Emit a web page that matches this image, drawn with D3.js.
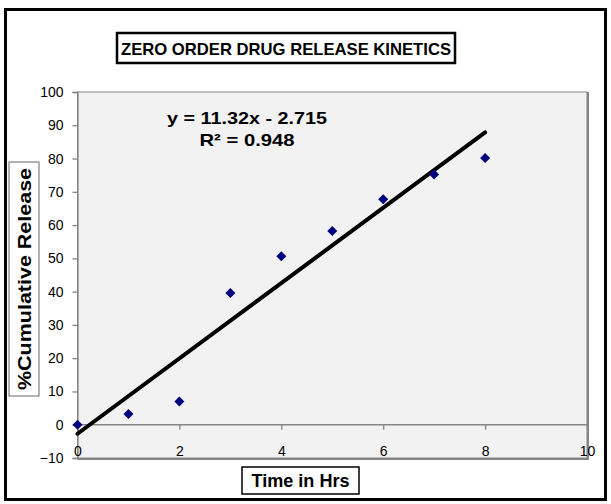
<!DOCTYPE html>
<html>
<head>
<meta charset="utf-8">
<script src="https://cdn.jsdelivr.net/npm/d3@7"></script>
<style>
  body { margin: 0; background: #fff; }
  svg { font-family: "Liberation Sans", Arial, sans-serif; }
</style>
</head>
<body>
<div id="chart"></div>
<script>
// Observed cumulative release (%) at each hour
const hours = [0, 1, 2, 3, 4, 5, 6, 7, 8];
const release = [0, 3.2, 7.0, 39.6, 50.6, 58.2, 67.8, 75.2, 80.2];

// Linear trendline reported on the chart
const slope = 11.32;
const intercept = -2.715;
const rSquared = 0.948;

const xTicks = [0, 2, 4, 6, 8, 10];
const yTicks = [-10, 0, 10, 20, 30, 40, 50, 60, 70, 80, 90, 100];

const chartTitle = 'ZERO ORDER DRUG RELEASE KINETICS';
const xTitle = 'Time in Hrs';
const yTitle = '%Cumulative Release';

class ReleaseChart {

    constructor(config) {
        this.config = config;
        this.initVis();
    }

    initVis() {
        const vis = this;
        const m = vis.config.margin;

        vis.width = vis.config.containerWidth - m.left - m.right;
        vis.height = vis.config.containerHeight - m.top - m.bottom;

        vis.xScale = d3.scaleLinear().domain([0, 10]).range([0, vis.width]);
        vis.yScale = d3.scaleLinear().domain([-10, 100]).range([vis.height, 0]);

        vis.svg = d3.select(vis.config.parentElement)
            .append('svg')
            .attr('width', 611)
            .attr('height', 504);

        // outer chart frame
        vis.svg.append('rect')
            .attr('x', 5.5).attr('y', 9.5)
            .attr('width', 600).attr('height', 490)
            .attr('fill', '#fff')
            .attr('stroke', '#000')
            .attr('stroke-width', 3);

        vis.chart = vis.svg.append('g')
            .attr('transform', `translate(${m.left},${m.top})`);

        vis.renderVis();
    }

    // stretched/condensed bold label, Excel style
    addLabel(x, y, text, size, length, rotate) {
        const vis = this;
        return vis.svg.append('text')
            .attr('transform', `translate(${x},${y})` + (rotate ? ' rotate(-90)' : ''))
            .attr('text-anchor', 'middle')
            .attr('textLength', length)
            .attr('lengthAdjust', 'spacingAndGlyphs')
            .style('font-size', size + 'px')
            .style('font-weight', 'bold')
            .text(text);
    }

    renderVis() {
        const vis = this;

        // plot area
        vis.chart.append('rect')
            .attr('width', vis.width)
            .attr('height', vis.height)
            .attr('fill', '#f2f2f2')
            .attr('stroke', '#858585')
            .attr('stroke-width', 1);
        vis.chart.append('path')
            .attr('d', `M${vis.width + 1},0V${vis.height + 1}H0`)
            .attr('fill', 'none')
            .attr('stroke', '#858585')
            .attr('stroke-width', 2);

        // y axis on the left edge
        const yAxis = d3.axisLeft(vis.yScale)
            .tickValues(yTicks)
            .tickSize(5)
            .tickPadding(9);
        const yG = vis.chart.append('g').call(yAxis);

        // x axis crossing at y = 0
        const xAxis = d3.axisBottom(vis.xScale)
            .tickValues(xTicks)
            .tickSize(5)
            .tickPadding(16);
        const xG = vis.chart.append('g')
            .attr('transform', `translate(0,${vis.yScale(0)})`)
            .call(xAxis);

        [yG, xG].forEach(g => {
            g.select('.domain').attr('stroke', '#858585').attr('stroke-width', 1.3);
            g.selectAll('.tick line').attr('stroke', '#858585').attr('stroke-width', 1.3);
            g.selectAll('.tick text')
                .attr('fill', '#000')
                .style('font-size', '14px');
        });
        xG.select('.domain').attr('d', `M0,0H${vis.width}`);

        // trendline
        const fitX = d3.extent(hours);
        vis.chart.append('line')
            .attr('x1', vis.xScale(fitX[0]))
            .attr('y1', vis.yScale(slope * fitX[0] + intercept))
            .attr('x2', vis.xScale(fitX[1]))
            .attr('y2', vis.yScale(slope * fitX[1] + intercept))
            .attr('stroke', '#000')
            .attr('stroke-width', 4)
            .attr('stroke-linecap', 'round');

        // data markers
        const diamond = d3.symbol().type(d3.symbolSquare).size(50);
        vis.chart.selectAll('.point')
            .data(hours.map((h, i) => ({ x: h, y: release[i] })))
            .join('path')
            .attr('class', 'point')
            .attr('d', diamond)
            .attr('transform', d => `translate(${vis.xScale(d.x)},${vis.yScale(d.y)}) rotate(45)`)
            .attr('fill', '#000080');

        // trendline equation
        vis.addLabel(247, 124, `y = ${slope}x - ${Math.abs(intercept)}`, 17, 160);
        vis.addLabel(247, 146, `R² = ${rSquared}`, 17, 95);

        // title in a box
        vis.svg.append('rect')
            .attr('x', 117).attr('y', 33)
            .attr('width', 338).attr('height', 30)
            .attr('fill', '#fff')
            .attr('stroke', '#000')
            .attr('stroke-width', 2.5);
        vis.addLabel(286, 55, chartTitle, 17, 330);

        // x axis title
        vis.svg.append('rect')
            .attr('x', 242).attr('y', 467)
            .attr('width', 117).attr('height', 27)
            .attr('fill', '#fff')
            .attr('stroke', '#000')
            .attr('stroke-width', 1.5);
        vis.addLabel(300.5, 487, xTitle, 18, 98);

        // y axis title
        vis.svg.append('rect')
            .attr('x', 9).attr('y', 162)
            .attr('width', 30).attr('height', 234)
            .attr('fill', '#fff')
            .attr('stroke', '#808080')
            .attr('stroke-width', 1.2);
        vis.addLabel(31, 279, yTitle, 19, 222, true);
    }
}

new ReleaseChart({
    parentElement: '#chart',
    containerWidth: 611,
    containerHeight: 504,
    margin: { top: 92, right: 24, bottom: 46, left: 77.5 }
});
</script>
</body>
</html>
